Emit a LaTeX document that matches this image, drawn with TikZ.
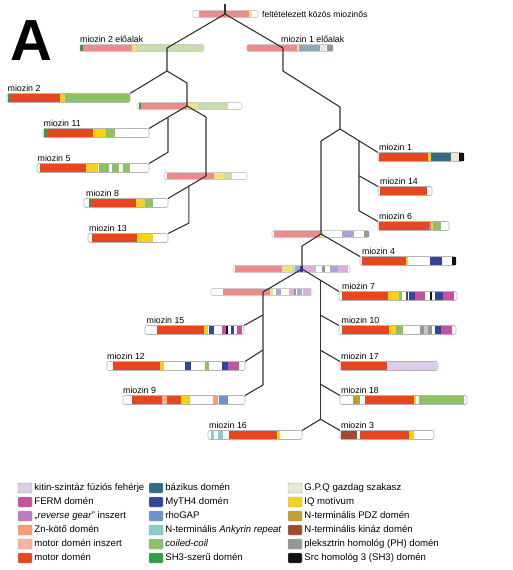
\documentclass[tikz,border=0pt]{standalone}
\usepackage{fontspec}
\setmainfont{Liberation Sans}
\usetikzlibrary{positioning}

% domain colours
\definecolor{motor}{HTML}{E8461E}
\definecolor{iq}{HTML}{F6D31A}
\definecolor{coil}{HTML}{8DC165}
\definecolor{shlike}{HTML}{2E9E48}
\definecolor{myth}{HTML}{3344A0}
\definecolor{ferm}{HTML}{C8509C}
\definecolor{revgear}{HTML}{C07AC0}
\definecolor{kitin}{HTML}{DCCCE6}
\definecolor{znbind}{HTML}{F4A070}
\definecolor{minsert}{HTML}{F6B49C}
\definecolor{basic}{HTML}{2F6E82}
\definecolor{rhogap}{HTML}{7090D0}
\definecolor{ankyrin}{HTML}{88CCCC}
\definecolor{gpq}{HTML}{E4EBCF}
\definecolor{pdz}{HTML}{C0A030}
\definecolor{kinase}{HTML}{A04A30}
\definecolor{phdom}{HTML}{969696}
\definecolor{shthree}{HTML}{111111}
% faded colours of the ancestral bars
\definecolor{amotor}{HTML}{EE8A8A}
\definecolor{aiq}{HTML}{F2E27E}
\definecolor{acoil}{HTML}{C8DEA8}
\definecolor{amyth}{HTML}{A6A6DA}
\definecolor{aferm}{HTML}{DCB0D8}
\definecolor{abasic}{HTML}{8AAAB8}
\definecolor{linegray}{HTML}{333333}
\definecolor{framegray}{HTML}{B4B4B4}

\tikzset{
  barframe/.style={draw=framegray,fill=white,line width=0.6pt,rounded corners=1.5pt,
    inner sep=0pt,outer sep=0pt,minimum height=9pt},
  ancframe/.style={barframe,draw=framegray!70,minimum height=7pt},
  lbl/.style={inner sep=0pt,font=\fontsize{8.8}{10}\selectfont},
  legbox/.style={draw=gray!70,line width=0.4pt,rounded corners=1pt,inner sep=0pt,
    minimum width=14pt,minimum height=10pt},
  legtxt/.style={inner sep=0pt,text height=7pt,text depth=2pt,font=\fontsize{9.6}{11}\selectfont},
  branch/.style={draw=linegray,line width=1.1pt,line join=round},
}

% bar: [style]{name}{x1}{x2}{y}
\newcommand{\protbar}[5][barframe]{\node[#1,minimum width={(#4-#3)*1pt}] (#2) at ({(#3+#4)/2},#5) {};}
% domains: [half height]{y}{x1/x2/colour,...}
\newcommand{\segs}[3][3.9]{\foreach \a/\b/\c in {#3} {\fill[fill=\c] (\a,#2-#1) rectangle (\b,#2+#1);}}
% name above a bar
\newcommand{\tlabel}[3]{\node[lbl,above right=2pt and #2pt of #1.north west] (t#1) {#3};}

\begin{document}
\begin{tikzpicture}[x=1pt,y=-1pt]
\useasboundingbox (0,0) rectangle (512,570);

\node[font=\fontsize{58}{58}\selectfont\bfseries,anchor=base west,inner sep=0pt] (panel) at (10,60) {A};

% ancestral bars
\protbar[ancframe]{a0}{193}{258}{14}
\segs[2.9]{14}{199/249/amotor, 249/252/aiq}
\node[lbl,font=\fontsize{8.6}{10}\selectfont,right=4pt of a0] (ta0) {feltételezett közös miozinős};

\protbar[ancframe]{a2}{80}{204}{48}
\segs[2.9]{48}{80/83/shlike, 83/132/amotor, 132/136/aiq, 136/204/acoil}
\tlabel{a2}{0}{miozin 2 előalak}

\protbar[ancframe]{a1}{247}{333}{48}
\segs[2.9]{48}{247/297/amotor, 297/299/aiq, 299/320/abasic, 320/326/gpq, 327/333/phdom}
\tlabel{a1}{34}{miozin 1 előalak}

\protbar[ancframe]{b1}{137}{242}{106}
\segs[2.9]{106}{139/141/shlike, 141/187/amotor, 187/198/aiq, 198/228/acoil}

\protbar[ancframe]{b2}{164}{247}{176}
\segs[2.9]{176}{167/214/amotor, 214/224/aiq, 224/232/acoil}

\protbar[ancframe]{b3}{272}{369}{234}
\segs[2.9]{234}{274/320/amotor, 320/323/aiq, 342/354/amyth, 364/369/phdom}

\protbar[ancframe]{b4}{233}{350}{269}
\segs[2.9]{269}{235/282/amotor, 282/292/aiq, 292/295/acoil, 295/300/amyth, 300/303/myth,
  303/316/aferm, 322/325/phdom, 330/338/amyth, 338/348/aferm}

\protbar[ancframe]{b5}{211}{312}{292}
\segs[2.9]{292}{223/270/amotor, 270/273/aiq, 276/281/amyth, 289/294/aferm, 294/296/phdom,
  297/302/amyth, 303/311/aferm}

% myosin classes
\protbar{m2}{7}{130}{98}
\segs{98}{8/10/shlike, 10/60/motor, 60/65/iq, 65/129.5/coil}
\tlabel{m2}{0.5}{miozin 2}

\protbar{m11}{43}{149}{133}
\segs{133}{43.5/47/shlike, 47/93/motor, 93/106/iq, 106/115/coil}
\tlabel{m11}{0.5}{miozin 11}

\protbar{m5}{37}{149}{168}
\segs{168}{40/86/motor, 86/98/iq, 99/109/coil, 112/119/coil, 123/130/coil}
\tlabel{m5}{0.5}{miozin 5}

\protbar{m8}{84}{168}{203}
\segs{203}{89/91/shlike, 91/136/motor, 136/145/iq, 145/153/coil}
\tlabel{m8}{2}{miozin 8}

\protbar{m13}{88}{168}{238}
\segs{238}{92/137/motor, 137/153/iq}
\tlabel{m13}{1}{miozin 13}

\protbar{m1}{378}{464}{157}
\segs{157}{378.5/428/motor, 428/431/iq, 431/451/basic, 451/459/gpq, 459/463.5/shthree}
\tlabel{m1}{1}{miozin 1}

\protbar{m14}{378}{432}{191}
\segs{191}{380/427/motor}
\tlabel{m14}{2}{miozin 14}

\protbar{m6}{378}{449}{226}
\segs{226}{378.5/429/motor, 429/431/revgear, 431/433/iq, 433/441/coil}
\tlabel{m6}{1}{miozin 6}

\protbar{m4}{360}{456}{261}
\segs{261}{362/406/motor, 406/408/iq, 430/442/myth, 452/455.5/shthree}
\tlabel{m4}{2}{miozin 4}

\protbar{m7}{339}{457}{296}
\segs{296}{342/388/motor, 388/399/iq, 399/402/coil, 406/407.5/myth, 408.5/415/myth,
  415/425/ferm, 430/432/shthree, 435/443/myth, 443/454/ferm}
\tlabel{m7}{3}{miozin 7}

\protbar{m10}{339}{456}{330}
\segs{330}{342/389/motor, 389/396/iq, 396/403/coil, 420/424/phdom, 424/428/phdom!55,
  428/432/phdom, 435/441/myth, 441/452/ferm}
\tlabel{m10}{2.5}{miozin 10}

\protbar{m15}{145}{244}{330}
\segs{330}{157/204/motor, 204/208/iq, 208.5/209.5/myth, 210/214/myth, 222/226/ferm,
  226/228/shthree, 231/234/myth, 237/242/ferm}
\tlabel{m15}{1.5}{miozin 15}

\protbar{m12}{107}{245}{366}
\segs{366}{113/160/motor, 160/164/iq, 185/191/myth, 205/209/coil, 222/228/myth, 228/239/ferm}
\tlabel{m12}{0}{miozin 12}

\protbar{m9}{123}{245}{400}
\segs{400}{132/162/motor, 162/167/minsert, 167/181/motor, 181/190/iq, 213/218/znbind,
  219/228/rhogap}
\tlabel{m9}{0}{miozin 9}

\protbar{m17}{340}{438}{366}
\segs{366}{340.5/387/motor, 387/437.5/kitin}
\tlabel{m17}{1}{miozin 17}

\protbar{m18}{340}{467}{400}
\segs{400}{353/360/pdz, 365/414/motor, 414/416/iq, 419/464/coil}
\tlabel{m18}{1}{miozin 18}

\protbar{m16}{208}{302}{435}
\segs{435}{211/214/ankyrin, 218/223/ankyrin, 229/277/motor, 277/280/iq}
\tlabel{m16}{1}{miozin 16}

\protbar{m3}{340}{434}{435}
\segs{435}{340.5/357/kinase, 360/409/motor, 409/414/iq}
\tlabel{m3}{1}{miozin 3}

% tree
\coordinate (r0top) at (225,4);
\coordinate (r0) at (225,14);
\coordinate (j2) at (167,48);
\coordinate (j1) at (283,48);
\draw[branch] (r0top) -- (r0);
\draw[branch] (r0) -- (j2) -- ++(0,23) coordinate (k2) -- (m2.north east);
\draw[branch] (k2) -- ++(20,12) -- ++(0,23) coordinate (jb1);
\draw[branch] (jb1) -- (m11.north east);
\path (jb1) -- (m11.north east) coordinate[pos=0.5] (c11);
\draw[branch] (c11) -- ++(0,35) -- (m5.north east);
\draw[branch] (jb1) -- ++(19,11) -- ++(0,59) coordinate (jb2);
\draw[branch] (jb2) -- (m8.north east);
\path (jb2) -- (m8.north east) coordinate[pos=0.45] (c8);
\draw[branch] (c8) -- ++(0,37) -- (m13.north east);

\draw[branch] (r0) -- (j1) -- ++(0,23) -- ++(57,36) -- ++(0,22) coordinate (k1b);
\draw[branch] (k1b) -- (m1.north west);
\path (k1b) -- (m1.north west) coordinate[pos=0.5] (c1);
\draw[branch] (c1) -- ++(0,70) -- (m6.north west);
\draw[branch] (c1) ++(0,35) -- (m14.north west);
\draw[branch] (k1b) -- ++(-19,12) -- ++(0,93) coordinate (jb3);
\draw[branch] (jb3) -- (m4.north west);
\draw[branch] (jb3) -- ++(-19,12) -- ++(0,23) coordinate (jb4);
\draw[branch] (jb4) -- (m7.north west);
\path (jb4) -- (m7.north west) coordinate[pos=0.5] (c7);
\draw[branch] (c7) -- ++(0,139) coordinate (jbot);
\draw[branch] (c7) ++(0,35) -- (m10.north west);
\draw[branch] (c7) ++(0,70) -- (m17.north west);
\draw[branch] (c7) ++(0,104) -- (m18.north west);
\draw[branch] (jbot) -- (m16.north east);
\draw[branch] (jbot) -- (m3.north west);
\draw[branch] (jb4) -- ++(-39,23) coordinate (jb5);
\draw[branch] (jb5) -- ++(0,93) -- (m9.north east);
\draw[branch] (jb5) ++(0,23) -- (m15.north east);
\draw[branch] (jb5) ++(0,58) -- (m12.north east);

% legend
\foreach \col/\txt [count=\i from 0] in {kitin/kitin-szintáz fúziós fehérje, ferm/FERM domén,
    revgear/{„\emph{reverse gear}” inszert}, znbind/Zn-kötő domén,
    minsert/motor domén inszert, motor/motor domén} {
  \node[legbox,fill=\col] (la\i) at (25,488+14*\i) {};
  \node[legtxt,right=2pt of la\i] (lta\i) {\txt};
}
\foreach \col/\txt [count=\i from 0] in {basic/bázikus domén, myth/MyTH4 domén, rhogap/rhoGAP,
    ankyrin/{N-terminális \emph{Ankyrin repeat}}, coil/\emph{coiled-coil}, shlike/SH3-szerű domén} {
  \node[legbox,fill=\col] (lb\i) at (156,488+14*\i) {};
  \node[legtxt,right=2pt of lb\i] (ltb\i) {\txt};
}
\foreach \col/\txt [count=\i from 0] in {gpq/G.P.Q gazdag szakasz, iq/IQ motívum,
    pdz/N-terminális PDZ domén, kinase/N-terminális kináz domén,
    phdom/pleksztrin homológ (PH) domén, shthree/Src homológ 3 (SH3) domén} {
  \node[legbox,fill=\col] (lc\i) at (295,488+14*\i) {};
  \node[legtxt,right=2pt of lc\i] (ltc\i) {\txt};
}
\end{tikzpicture}
\end{document}
